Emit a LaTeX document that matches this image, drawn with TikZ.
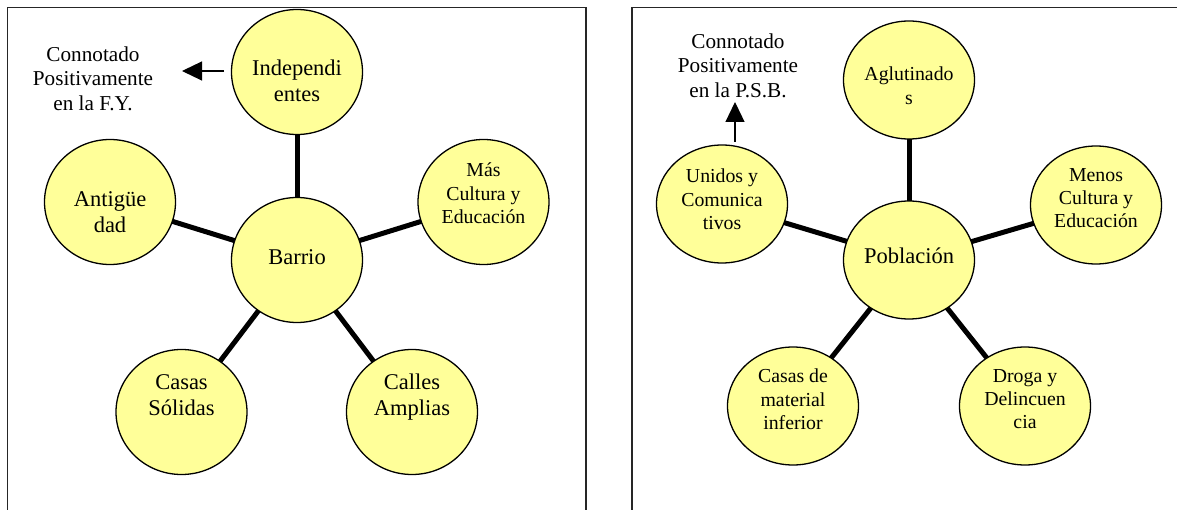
\documentclass[tikz,border=0pt]{standalone}
\usepackage{fontspec}
\setmainfont{Liberation Serif}
\usetikzlibrary{shapes.geometric,arrows.meta,backgrounds}
\definecolor{pale}{HTML}{FFFF99}
\begin{document}
\begin{tikzpicture}[x=1pt,y=-1pt,
  bubL/.style={ellipse,draw=black,line width=1.3pt,fill=pale,minimum width=131pt,minimum height=125pt,inner sep=0pt},
  bubR/.style={bubL,minimum height=118pt},
  big/.style={anchor=north,align=center,inner sep=0pt,font=\fontsize{22.5}{26}\selectfont},
  small/.style={anchor=north,align=center,inner sep=0pt,font=\fontsize{19.8}{23.3}\selectfont},
  note/.style={anchor=north,align=center,inner sep=0pt,font=\fontsize{21.2}{24.5}\selectfont},
  link/.style={line width=5pt},
  frame/.style={line width=1.5pt,draw=black!85},
  pointer/.style={line width=1.2pt,-{Triangle[length=20pt,width=19pt]}}]
\useasboundingbox (0,0) rectangle (1177,510);
\clip (0,0) rectangle (1177,510);

% frames
\draw[frame] (7.5,520) -- (7.5,7.5) -- (586,7.5) -- (586,520);
\draw[frame] (632,520) -- (632,7.5) -- (1190,7.5);

% ---------- left panel ----------
\node[bubL] (indep)  at (297,72)    {};
\node[bubL] (antig)  at (110,202)   {};
\node[bubL] (barrio) at (297,260)   {};
\node[bubL] (mas)    at (483.5,202) {};
\node[bubL] (casas)  at (181.5,412) {};
\node[bubL] (calles) at (412,412)   {};
\begin{scope}[on background layer]
  \draw[link] (barrio.center) -- (indep.center);
  \draw[link] (barrio.center) -- (antig.center);
  \draw[link] (barrio.center) -- (mas.center);
  \draw[link] (barrio.center) -- (casas.center);
  \draw[link] (barrio.center) -- (calles.center);
\end{scope}
\node[big]   (tindep)  at (297,60)    {Independi\\entes};
\node[big]   (tantig)  at (110,191)   {Antigüe\\dad};
\node[big]   (tbarrio) at (297,249)   {Barrio};
\node[small] (tmas)    at (483.5,163) {Más\\Cultura y\\Educación};
\node[big]   (tcasas)  at (181.5,374) {Casas\\Sólidas};
\node[big]   (tcalles) at (412,374)   {Calles\\Amplias};
\node[note]  (noteL)   at (93,46.5)   {Connotado\\Positivamente\\en la F.Y.};
\coordinate (aLs) at (224,71);
\coordinate (aLe) at (182,71);
\draw[pointer] (aLs) -- (aLe);

% ---------- right panel ----------
\node[bubR] (aglut)  at (909,80)   {};
\node[bubR] (unidos) at (722,204)  {};
\node[bubR] (pobl)   at (909,260)  {};
\node[bubR] (menos)  at (1096,205) {};
\node[bubR] (casasd) at (793,406)  {};
\node[bubR] (droga)  at (1025,406) {};
\begin{scope}[on background layer]
  \draw[link] (pobl.center) -- (aglut.center);
  \draw[link] (pobl.center) -- (unidos.center);
  \draw[link] (pobl.center) -- (menos.center);
  \draw[link] (pobl.center) -- (casasd.center);
  \draw[link] (pobl.center) -- (droga.center);
\end{scope}
\node[small] (taglut)  at (909,67)   {Aglutinado\\s};
\node[small] (tunidos) at (722,169)  {Unidos y\\Comunica\\tivos};
\node[big]   (tpobl)   at (909,248)  {Población};
\node[small] (tmenos)  at (1096,168) {Menos\\Cultura y\\Educación};
\node[small] (tcasasd) at (793,369)  {Casas de\\material\\inferior};
\node[small] (tdroga)  at (1025,369) {Droga y\\Delincuen\\cia};
\node[note]  (noteR)   at (738,33.5) {Connotado\\Positivamente\\en la P.S.B.};
\coordinate (aRs) at (735,142);
\coordinate (aRe) at (735,102);
\draw[pointer] (aRs) -- (aRe);
\end{tikzpicture}
\end{document}
